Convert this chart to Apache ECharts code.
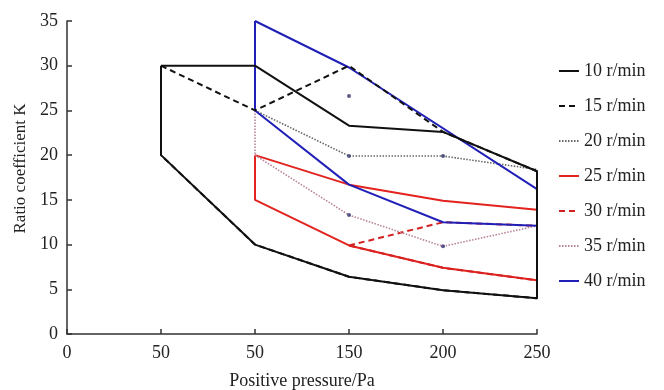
<!DOCTYPE html>
<html>
<head>
<meta charset="utf-8">
<script src="https://cdn.jsdelivr.net/npm/echarts@6/dist/echarts.min.js"></script>
<style>
  html, body { margin: 0; padding: 0; background: #fff; }
  #chart { width: 664px; height: 390px; }
</style>
</head>
<body>
<div id="chart"></div>
<script>
// x 轴刻度标签（原图按等距分类排布，50 出现两次）
const xLabels = ['0', '50', '50', '150', '200', '250'];

// 各转速下的封闭区域轮廓 [x 索引, K]
const k10 = [[1, 30], [2, 30], [3, 23.3], [4, 22.6], [5, 18.2], [5, 4], [4, 4.9], [3, 6.4], [2, 10], [1, 20], [1, 30]];
const k15 = [[1, 30], [2, 25], [3, 30], [4, 22.6], [5, 18.2], [5, 4], [4, 4.9], [3, 6.4], [2, 10], [1, 20], [1, 30]];
const k20 = [[2, 25], [3, 19.9], [4, 19.9], [5, 18.4]];
const k25 = [[2, 20], [3, 16.7], [4, 14.9], [5, 13.9], [5, 6], [4, 7.4], [3, 9.9], [2, 15], [2, 20]];
const k30 = [[3, 9.9], [4, 12.5], [5, 12.1], [5, 6], [4, 7.4], [3, 9.9]];
const k35 = [[2, 25], [2, 20], [3, 13.3], [4, 9.8], [5, 12.1]];
const k40 = [[2, 35], [3, 29.8], [5, 16.2], [5, 12.1], [4, 12.5], [3, 16.7], [2, 25], [2, 35]];

// 图中零散的小标记点
const markPoints = [[3, 26.6], [3, 19.9], [4, 19.9], [3, 13.3], [4, 9.8]];

const FONT = "'Liberation Serif', 'Times New Roman', serif";

function lineSeries(name, data, color, type, width, z) {
  return {
    name,
    type: 'line',
    data,
    symbol: 'none',
    silent: true,
    z: z || 2,
    lineStyle: { color, type, width },
    itemStyle: { color },
  };
}

const chart = echarts.init(document.getElementById('chart'), null, { renderer: 'canvas' });

chart.setOption({
  animation: false,
  backgroundColor: '#fff',
  textStyle: { fontFamily: FONT },
  grid: { left: 67, right: 127, top: 21, bottom: 56, outerBoundsMode: 'none', containLabel: false },
  legend: {
    orient: 'vertical',
    left: 553,
    top: 57,
    itemWidth: 20,
    itemHeight: 12,
    itemGap: 17,
    itemStyle: { opacity: 0 },
    textStyle: { fontFamily: FONT, fontSize: 18, color: '#222', lineHeight: 15 },
    data: ['10 r/min', '15 r/min', '20 r/min', '25 r/min', '30 r/min', '35 r/min', '40 r/min'],
  },
  xAxis: {
    type: 'value',
    min: 0,
    max: 5,
    interval: 1,
    name: 'Positive pressure/Pa',
    nameLocation: 'middle',
    nameGap: 38,
    nameTextStyle: { fontFamily: FONT, fontSize: 18, color: '#222' },
    axisLine: { lineStyle: { color: '#333', width: 1.5 } },
    axisTick: { inside: true, length: 5, lineStyle: { color: '#333', width: 1.5 } },
    axisLabel: {
      margin: 10,
      fontFamily: FONT,
      fontSize: 18,
      color: '#222',
      formatter: (v) => xLabels[v],
    },
    splitLine: { show: false },
  },
  yAxis: {
    type: 'value',
    min: 0,
    max: 35,
    interval: 5,
    name: 'Ratio coefficient K',
    nameLocation: 'middle',
    nameGap: 35,
    nameTextStyle: { fontFamily: FONT, fontSize: 17, color: '#222', padding: [0, 0, 0, 18] },
    axisLine: { show: true, lineStyle: { color: '#333', width: 1.5 } },
    axisTick: { show: true, inside: true, length: 5, lineStyle: { color: '#333', width: 1.5 } },
    axisLabel: { margin: 9, fontFamily: FONT, fontSize: 18, color: '#222' },
    splitLine: { show: false },
  },
  series: [
    lineSeries('10 r/min', k10, '#111', 'solid', 2, 4),
    lineSeries('15 r/min', k15, '#111', [6, 4], 2, 4),
    lineSeries('20 r/min', k20, '#666', [1.5, 1.5], 1.6),
    lineSeries('25 r/min', k25, '#e2231e', 'solid', 2),
    lineSeries('30 r/min', k30, '#d42020', [6, 4], 2),
    lineSeries('35 r/min', k35, '#b8849c', [1.5, 1.5], 1.6),
    lineSeries('40 r/min', k40, '#2020b8', 'solid', 2, 3),
    {
      type: 'scatter',
      data: markPoints,
      symbol: 'circle',
      symbolSize: 4,
      silent: true,
      z: 5,
      itemStyle: { color: '#33336e' },
    },
  ],
});
</script>
</body>
</html>
